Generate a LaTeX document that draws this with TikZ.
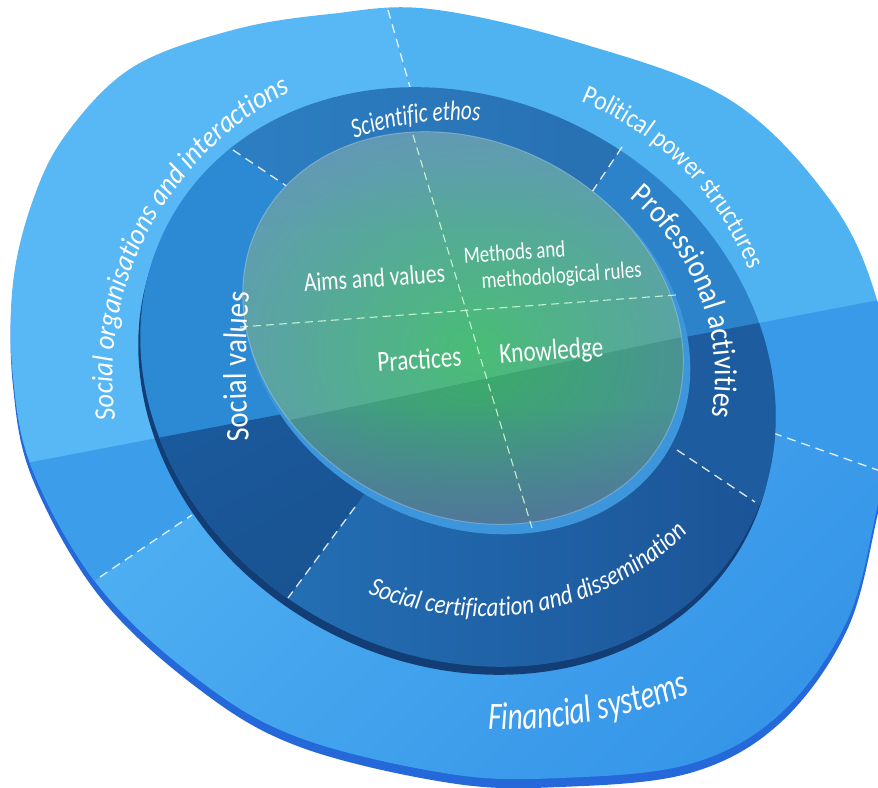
\documentclass[tikz,border=0pt]{standalone}
\usepackage{fontspec}
\setmainfont{Carlito}
\newfontfamily\fIt[FakeStretch=0.75]{Carlito}
\newfontfamily\fItM[FakeStretch=0.85]{Carlito}
\newfontfamily\fItW[FakeStretch=0.9]{Carlito}
\newfontfamily\fUp[FakeStretch=0.87]{Carlito}
\newfontfamily\fIn[FakeStretch=0.8]{Carlito}
\usetikzlibrary{decorations.text,fadings,calc}
\definecolor{rimO}{HTML}{2468DA}
\definecolor{outA}{HTML}{57B8F5}
\definecolor{outAlow}{HTML}{3C9DEB}
\definecolor{outB}{HTML}{4FB3F2}
\definecolor{outBlow}{HTML}{3A9AEA}
\definecolor{outC1}{HTML}{52B4F4}
\definecolor{outC2}{HTML}{3190E6}
\definecolor{rimM}{HTML}{123E75}
\definecolor{midT1}{HTML}{2E82C8}
\definecolor{midT2}{HTML}{276FB0}
\definecolor{midR}{HTML}{2C83C9}
\definecolor{midRlow}{HTML}{1D5C9F}
\definecolor{midB1}{HTML}{2572B8}
\definecolor{midB2}{HTML}{1A5092}
\definecolor{midL}{HTML}{2C89D3}
\definecolor{midLlow}{HTML}{1B5CA0}
\definecolor{midLlow2}{HTML}{164880}
\definecolor{rimI}{HTML}{3D96DB}
\definecolor{inC}{HTML}{3CB86C}
\definecolor{inO}{HTML}{5A8CBC}
\definecolor{inP}{HTML}{5A68AA}
\newcommand\outerT{plot[smooth cycle, tension=0.6] coordinates {(330,773) (430,778) (580,744) (730,687) (830,587) (877,487) (895,371) (878,283) (847,166) (780,73) (690,23) (560,9) (450,13) (300,49) (200,106) (100,199) (33,316) (13,410) (13,504) (33,587) (67,654) (133,720) (233,757)}}
\tikzset{
  lbl/.style={decorate, decoration={text along path, text align=center, text color=white, text={#1}}},
  dv/.style={white, opacity=0.85, line width=1.3pt, dash pattern=on 9pt off 6pt},
  dvi/.style={white!85!green, opacity=0.85, line width=1.1pt, dash pattern=on 8pt off 5pt},
  inlbl/.style={text=white, anchor=base, rotate=4, inner sep=0pt}
}
\begin{document}
\begin{tikzpicture}[x=1pt,y=1pt,line join=round]
\useasboundingbox (0,0) rectangle (878,787);
\clip (0,0) rectangle (878,787);
% ---------------- outer disc
\fill[rimO, yshift=-9pt] \outerT;
\begin{scope}
  \clip \outerT;
  \shade[top color=outC1, bottom color=outC2, shading angle=45]
    (563,428) -- (983,280) -- (1000,-100) -- (-100,-100) -- (-84,86) -- (376,396) -- cycle;
  \fill[outA] (476,469) -- (366,854) -- (-100,854) -- (-100,86) -- (-84,86) -- (376,396) -- cycle;
  \fill[outB] (476,469) -- (366,854) -- (1000,854) -- (983,280) -- (563,428) -- cycle;
  \begin{scope}
    \clip (476,469) -- (366,854) -- (-100,854) -- (-100,86) -- (-84,86) -- (376,396) -- cycle;
    \fill[outAlow] (-10,317) -- (900,491) -- (900,-10) -- (-10,-10) -- cycle;
  \end{scope}
  \begin{scope}
    \clip (476,469) -- (366,854) -- (1000,854) -- (983,280) -- (563,428) -- cycle;
    \fill[outBlow] (-10,317) -- (900,491) -- (900,-10) -- (-10,-10) -- cycle;
  \end{scope}
\end{scope}
\coordinate (oT1) at (388,777); \coordinate (oT2) at (410,700);
\coordinate (oR1) at (773,354); \coordinate (oR2) at (900,309);
\coordinate (oL1) at (100,210); \coordinate (oL2) at (192,272);
\draw[dv] (oT1) -- (oT2);
\draw[dv] (oR1) -- (oR2);
\draw[dv] (oL1) -- (oL2);
% ---------------- middle ring
\fill[rimM, rotate around={-28:(456,402)}] (456,402) ellipse[x radius=328, y radius=278];
\begin{scope}
  \clip[rotate around={-28:(458,410)}] (458,410) ellipse[x radius=328, y radius=278];
  \shade[left color=midT1, right color=midT2]
    (123,711) -- (398,526) -- (532,505) -- (652,685) -- (652,800) -- (123,800) -- cycle;
  \fill[midR] (532,505) -- (652,685) -- (900,685) -- (900,233) -- (833,233) -- (521,441) -- cycle;
  \shade[left color=midB1, right color=midB2]
    (521,441) -- (833,233) -- (833,0) -- (221,0) -- (221,98) -- (489,462) -- cycle;
  \fill[midL] (489,462) -- (221,98) -- (0,98) -- (0,800) -- (123,800) -- (123,711) -- (398,526) -- cycle;
  \begin{scope}
    \clip (532,505) -- (652,685) -- (900,685) -- (900,233) -- (833,233) -- (521,441) -- cycle;
    \fill[midRlow] (-10,317) -- (900,491) -- (900,-10) -- (-10,-10) -- cycle;
  \end{scope}
  \begin{scope}
    \clip (489,462) -- (221,98) -- (0,98) -- (0,800) -- (123,800) -- (123,711) -- (398,526) -- cycle;
    \shade[top color=midLlow, bottom color=midLlow2, shading angle=30] (-10,317) -- (900,491) -- (900,-10) -- (-10,-10) -- cycle;
  \end{scope}
\end{scope}
\coordinate (mUL1) at (233,637); \coordinate (mUL2) at (288,600);
\coordinate (mUR1) at (622,640); \coordinate (mUR2) at (592,595);
\coordinate (mLR1) at (677,337); \coordinate (mLR2) at (755,285);
\coordinate (mLL1) at (355,280); \coordinate (mLL2) at (288,189);
\draw[dv] (mUL1) -- (mUL2);
\draw[dv] (mUR1) -- (mUR2);
\draw[dv] (mLR1) -- (mLR2);
\draw[dv] (mLL1) -- (mLL2);
% ---------------- inner disc
\fill[rimI, rotate around={-28:(467,452)}] (467,452) ellipse[x radius=232, y radius=189];
\begin{scope}
  \clip[rotate around={-28:(463,459)}] (463,459) ellipse[x radius=229, y radius=186];
  \shade[inner color=inC, outer color=inO] (475,437) ellipse[x radius=340, y radius=290];
  \fill[inP, path fading=north, opacity=0.6] (200,255) rectangle (720,380);
  \fill[inO, path fading=south, opacity=0.35] (200,560) rectangle (720,660);
  \fill[white, opacity=0.07] (200,348) -- (720,458) -- (720,700) -- (200,700) -- cycle;
  \fill[black, opacity=0.06] (200,348) -- (720,458) -- (720,200) -- (200,200) -- cycle;
\end{scope}
\draw[white, opacity=0.25, line width=1pt, rotate around={-28:(463,459)}] (463,459) ellipse[x radius=229, y radius=186];
\coordinate (iH1) at (240,460); \coordinate (iH2) at (676,492);
\coordinate (iV1) at (413,652); \coordinate (iV2) at (532,259);
\draw[dvi] (iH1) -- (iH2);
\draw[dvi] (iV1) -- (iV2);
% ---------------- inner labels
\node[inlbl, font=\fIn\fontsize{27}{30}\selectfont] (aims) at (375,500) {Aims and values};
\node[inlbl, font=\fIn\fontsize{23.5}{26}\selectfont] (meth1) at (515,527) {Methods and};
\node[inlbl, font=\fIn\fontsize{23.5}{26}\selectfont] (meth2) at (562,504) {methodological rules};
\node[inlbl, font=\fIn\fontsize{29}{32}\selectfont] (prac) at (420,418) {Practices};
\node[inlbl, font=\fIn\fontsize{29}{32}\selectfont] (know) at (552,427) {Knowledge};
% ---------------- ring labels
\path[lbl={|\fItW\itshape\fontsize{29.5}{34}\selectfont|Social organisations and interactions}]
  ($(460,411)+(198.7:347.5 and 325.6)$) arc[start angle=198.7, end angle=108.7, x radius=347.5, y radius=325.6];
\path[lbl={|\fIt\itshape\fontsize{28}{32}\selectfont|Scientific ethos}]
  ($(460,411)+(134.1:285 and 256)$) arc[start angle=134.1, end angle=64.1, x radius=285, y radius=256];
\path[lbl={|\fUp\fontsize{27}{32}\selectfont|Political power structures}]
  ($(460,411)+(88.6:309 and 298.5)$) arc[start angle=88.6, end angle=-1.4, x radius=309, y radius=298.5];
\path[lbl={|\fUp\fontsize{32}{36}\selectfont|Professional activities}]
  ($(460,411)+(78.7:255 and 238)$) arc[start angle=78.7, end angle=-41.3, x radius=255, y radius=238];
\path[lbl={|\fUp\fontsize{33}{36}\selectfont|Social values}]
  ($(946,420.5)+(190:700)$) arc[start angle=190, end angle=170, radius=700];
\path[lbl={|\fItM\itshape\fontsize{27}{32}\selectfont|Social certification and dissemination}]
  ($(482.7,460.9)+(-129.2:290.8)$) arc[start angle=-129.2, end angle=-29.2, radius=290.8];
\path[lbl={|\fIt\itshape\fontsize{39}{44}\selectfont|Financial systems}]
  ($(497,587)+(-101.8:530)$) arc[start angle=-101.8, end angle=-57.8, radius=530];
\end{tikzpicture}
\end{document}
